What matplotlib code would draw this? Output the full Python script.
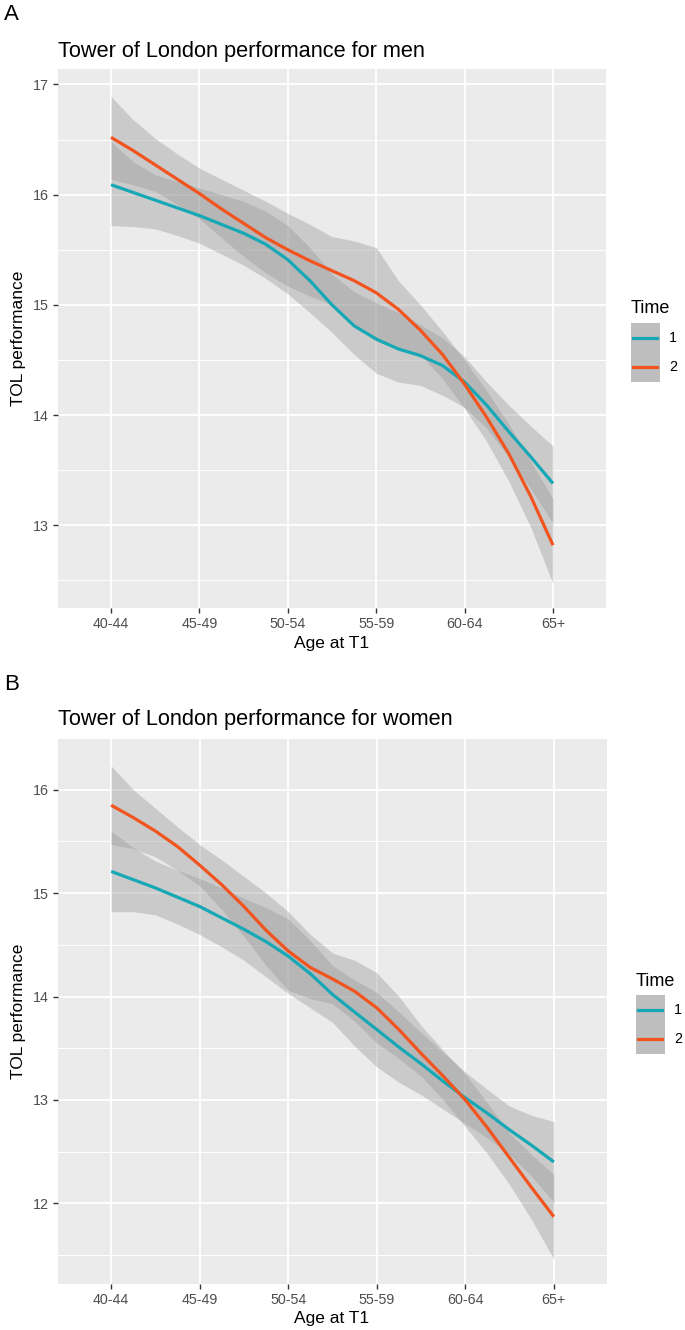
import matplotlib
matplotlib.use("Agg")
import matplotlib.pyplot as plt
from matplotlib.patches import Rectangle
from matplotlib.lines import Line2D

plt.rcParams['font.family'] = ['Liberation Sans', 'DejaVu Sans']

# age groups at T1 and the x grid the smooths were read on
age_labels = ['40-44', '45-49', '50-54', '55-59', '60-64', '65+']
xs = [1.0, 1.25, 1.5, 1.75, 2.0, 2.25, 2.5, 2.75, 3.0, 3.25, 3.5,
      3.75, 4.0, 4.25, 4.5, 4.75, 5.0, 5.25, 5.5, 5.75, 6.0]

# --- men (panel A) ---
men_t1 = [16.09, 16.02, 15.95, 15.88, 15.81, 15.73, 15.65, 15.55, 15.41, 15.22, 15.00,
          14.81, 14.69, 14.60, 14.54, 14.45, 14.30, 14.09, 13.85, 13.62, 13.38]
men_t1_lo = [15.72, 15.71, 15.69, 15.63, 15.56, 15.46, 15.36, 15.24, 15.10, 14.93, 14.75,
             14.55, 14.38, 14.30, 14.27, 14.18, 14.07, 13.88, 13.62, 13.33, 13.02]
men_t1_hi = [16.48, 16.30, 16.18, 16.12, 16.06, 16.00, 15.94, 15.85, 15.72, 15.52, 15.28,
             15.12, 15.02, 14.93, 14.82, 14.70, 14.53, 14.30, 14.09, 13.90, 13.72]
men_t2 = [16.52, 16.40, 16.27, 16.14, 16.01, 15.87, 15.74, 15.61, 15.50, 15.40, 15.31,
          15.22, 15.11, 14.96, 14.77, 14.55, 14.28, 13.98, 13.65, 13.26, 12.82]
men_t2_lo = [16.14, 16.09, 16.03, 15.91, 15.78, 15.61, 15.44, 15.29, 15.17, 15.08, 15.00,
             14.82, 14.67, 14.60, 14.55, 14.33, 14.06, 13.76, 13.40, 12.98, 12.47]
men_t2_hi = [16.89, 16.68, 16.51, 16.37, 16.24, 16.14, 16.04, 15.94, 15.83, 15.73, 15.62,
             15.58, 15.52, 15.22, 15.00, 14.76, 14.50, 14.22, 13.92, 13.58, 13.24]

# --- women (panel B) ---
women_t1 = [15.21, 15.13, 15.05, 14.96, 14.87, 14.76, 14.65, 14.53, 14.39, 14.22, 14.02,
            13.85, 13.68, 13.51, 13.35, 13.18, 13.02, 12.87, 12.71, 12.56, 12.40]
women_t1_lo = [14.82, 14.82, 14.79, 14.70, 14.60, 14.48, 14.35, 14.19, 14.03, 13.89, 13.75,
               13.52, 13.32, 13.17, 13.05, 12.91, 12.77, 12.63, 12.47, 12.26, 12.01]
women_t1_hi = [15.60, 15.44, 15.31, 15.22, 15.14, 15.05, 14.95, 14.86, 14.75, 14.54, 14.30,
               14.16, 14.04, 13.85, 13.65, 13.46, 13.27, 13.10, 12.94, 12.85, 12.79]
women_t2 = [15.85, 15.73, 15.60, 15.45, 15.27, 15.08, 14.87, 14.64, 14.44, 14.28, 14.17,
            14.05, 13.89, 13.68, 13.45, 13.23, 13.00, 12.73, 12.44, 12.15, 11.87]
women_t2_lo = [15.47, 15.43, 15.35, 15.22, 15.07, 14.84, 14.58, 14.30, 14.06, 13.98, 13.93,
               13.76, 13.55, 13.40, 13.23, 13.00, 12.74, 12.48, 12.18, 11.84, 11.46]
women_t2_hi = [16.23, 16.00, 15.82, 15.64, 15.47, 15.32, 15.16, 15.00, 14.82, 14.60, 14.42,
               14.35, 14.23, 14.00, 13.72, 13.48, 13.25, 12.97, 12.68, 12.47, 12.28]

TEAL = '#17A8B6'
ORANGE = '#F2541F'
W, H = 685, 1330


def fx(px):
    return px / W


def fy(py):
    return 1 - py / H


def draw_panel(ax, t1, t1_lo, t1_hi, t2, t2_lo, t2_hi, ylim, major, minor):
    ax.set_facecolor('#EBEBEB')
    for s in ax.spines.values():
        s.set_visible(False)
    ax.set_xlim(0.4, 6.6)
    ax.set_ylim(*ylim)
    ax.set_xticks(range(1, 7))
    ax.set_xticklabels(age_labels)
    ax.set_yticks(major)
    ax.set_yticks(minor, minor=True)
    ax.grid(True, which='major', color='white', lw=1.3)
    ax.grid(True, which='minor', axis='y', color='white', lw=0.7)
    ax.set_axisbelow(True)
    ax.tick_params(which='major', length=3.5, width=1, color='#333333',
                   labelcolor='#4D4D4D', labelsize=10.3, pad=3)
    ax.tick_params(which='minor', length=0)
    # geom_smooth order: ribbon then line for each group
    ax.fill_between(xs, t1_lo, t1_hi, color='#999999', alpha=0.4, lw=0)
    ax.plot(xs, t1, color=TEAL, lw=2.3, solid_capstyle='butt')
    ax.fill_between(xs, t2_lo, t2_hi, color='#999999', alpha=0.4, lw=0)
    ax.plot(xs, t2, color=ORANGE, lw=2.3, solid_capstyle='butt')


def draw_legend(fig, x0, y_title, box_top):
    fig.text(fx(x0), fy(y_title), 'Time', fontsize=13, va='baseline')
    fig.patches.append(Rectangle((fx(x0), fy(box_top + 59)), 29 / W, 59 / H,
                                 transform=fig.transFigure, color='#BEBEBE', lw=0))
    for i, c in enumerate([TEAL, ORANGE]):
        yc = box_top + 15 + i * 29
        fig.lines.append(Line2D([fx(x0 + 2), fx(x0 + 26)], [fy(yc), fy(yc)],
                                transform=fig.transFigure, color=c, lw=2.3))
        fig.text(fx(x0 + 38), fy(yc), str(i + 1), fontsize=10.3,
                 color='black', va='center')


fig = plt.figure(figsize=(W / 100, H / 100), dpi=100)

# panel A
ax1 = fig.add_axes([fx(58), fy(608), 548 / W, 539 / H])
draw_panel(ax1, men_t1, men_t1_lo, men_t1_hi, men_t2, men_t2_lo, men_t2_hi,
           (12.25, 17.14), [13, 14, 15, 16, 17], [12.5, 13.5, 14.5, 15.5, 16.5])
fig.text(fx(4), fy(20), 'A', fontsize=16, va='baseline')
fig.text(fx(58), fy(57), 'Tower of London performance for men', fontsize=15.7, va='baseline')
fig.text(fx(332), fy(648), 'Age at T1', fontsize=12.5, ha='center', va='baseline')
fig.text(fx(19), fy(338), 'TOL performance', fontsize=12.5, rotation=90, ha='center', va='center')
draw_legend(fig, 631, 313, 323)

# panel B
ax2 = fig.add_axes([fx(58), fy(1284), 549 / W, 545 / H])
draw_panel(ax2, women_t1, women_t1_lo, women_t1_hi, women_t2, women_t2_lo, women_t2_hi,
           (11.22, 16.49), [12, 13, 14, 15, 16], [11.5, 12.5, 13.5, 14.5, 15.5])
fig.text(fx(4), fy(690), 'B', fontsize=16, va='baseline')
fig.text(fx(58), fy(725), 'Tower of London performance for women', fontsize=15.7, va='baseline')
fig.text(fx(332), fy(1323), 'Age at T1', fontsize=12.5, ha='center', va='baseline')
fig.text(fx(19), fy(1011), 'TOL performance', fontsize=12.5, rotation=90, ha='center', va='center')
draw_legend(fig, 636, 986, 995)

fig.savefig('out.png', dpi=100)
